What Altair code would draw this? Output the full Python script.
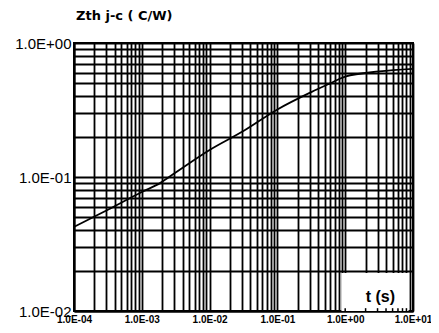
import altair as alt
import pandas as pd

# Curve: time (s) and Zth j-c (C/W)
t_vals = [1e-4, 3.16e-4, 1e-3, 1.86e-3, 3.16e-3, 1e-2, 3.24e-2, 0.1, 0.316, 0.6, 1.0, 3.16, 10.0]
z_vals = [0.0424, 0.057, 0.0773, 0.090, 0.108, 0.159, 0.222, 0.319, 0.43, 0.50, 0.562, 0.613, 0.64]

x_labels = ["1.0E-04", "1.0E-03", "1.0E-02", "1.0E-01", "1.0E+00", "1.0E+01"]
y_labels = ["1.0E-02", "1.0E-01", "1.0E+00"]

x_grid = [m * 10.0 ** k for k in range(-4, 1) for m in range(1, 10)] + [10.0]
y_grid = [m * 10.0 ** k for k in range(-2, 0) for m in range(1, 10)] + [1.0]

title_text = "Zth j-c ( C/W)"
xunit_text = "t (s)"
# annotation box (in data units)
box_t = [0.88, 8.6]
box_z = [0.0100, 0.0192]
box_ticks = [1, 2, 3, 4, 5, 6, 7, 8]
label_pos = [3.3, 0.0128]

def lab_expr(labels, offset):
    arr = "[" + ",".join("'%s'" % s for s in labels) + "]"
    lg = "(log(datum.value)/LN10)"
    return f"abs({lg} - round({lg})) < 0.001 ? {arr}[round({lg}) + {offset}] : ''"

xscale = alt.Scale(type="log", domain=[1e-4, 10], nice=False)
yscale = alt.Scale(type="log", domain=[0.01, 1], nice=False)
xaxis = alt.Axis(values=x_grid, labelExpr=lab_expr(x_labels, 4), title=None, grid=True,
                 ticks=False, labelOverlap=False, labelFlush=False, labelBound=False,
                 labelFont="Liberation Sans", labelFontWeight="bold", labelFontSize=10,
                 labelPadding=3, labelColor="black")
yaxis = alt.Axis(values=y_grid, labelExpr=lab_expr(y_labels, 2), title=None, grid=True,
                 ticks=False, labelOverlap=False, labelFlush=False, labelBound=False,
                 labelFont="Liberation Sans", labelFontSize=15,
                 labelPadding=3, labelColor="black")

curve_df = pd.DataFrame({"t": t_vals, "z": z_vals})
box_df = pd.DataFrame({"t": [box_t[0]], "t2": [box_t[1]], "z": [box_z[0]], "z2": [box_z[1]]})
tick_df = pd.DataFrame({"t": box_ticks, "z": [0.01] * len(box_ticks), "z2": [0.0105] * len(box_ticks)})
lab_df = pd.DataFrame({"t": [label_pos[0]], "z": [label_pos[1]], "s": [xunit_text]})

X = lambda: alt.X("t:Q", scale=xscale, axis=xaxis)
Y = lambda: alt.Y("z:Q", scale=yscale, axis=yaxis)

box = alt.Chart(box_df).mark_rect(fill="white").encode(
    x=X(), x2="t2:Q", y=Y(), y2="z2:Q")
ticks = alt.Chart(tick_df).mark_rule(color="black", strokeWidth=1.5).encode(
    x=X(), y=Y(), y2="z2:Q")
txt = alt.Chart(lab_df).mark_text(font="Liberation Sans", fontWeight="bold", fontSize=16,
                                  color="black").encode(x=X(), y=Y(), text="s:N")
line = alt.Chart(curve_df).mark_line(color="black", strokeWidth=1.8,
                                     interpolate="monotone").encode(x=X(), y=Y())

chart = alt.layer(box, ticks, txt, line).properties(
    width=339, height=268,
    title=alt.TitleParams(title_text, anchor="start", frame="group", offset=13,
                          font="DejaVu Sans", fontSize=13, fontWeight="bold",
                          color="black", dx=2),
    autosize=alt.AutoSizeParams(type="none"),
    padding={"left": 66, "top": 35, "right": 18, "bottom": 14},
).configure_axis(
    gridColor="black", gridWidth=1.8, gridOpacity=1,
    domainColor="black", domainWidth=2,
).configure_view(stroke="black", strokeWidth=2)

chart.save("out.html", embed_options={"renderer": "svg", "actions": False})
